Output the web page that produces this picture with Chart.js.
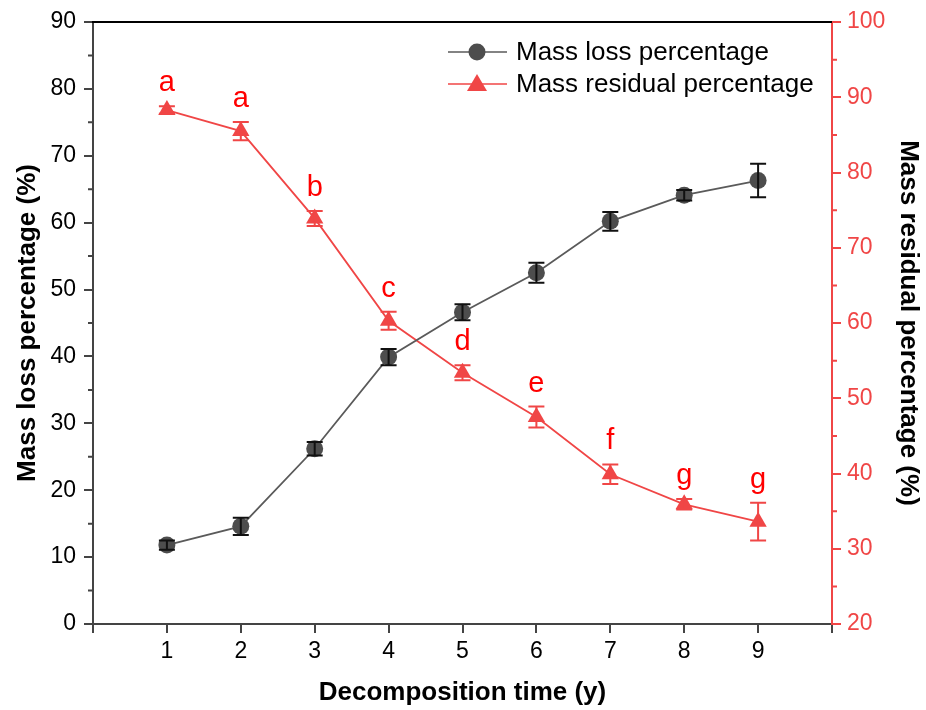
<!DOCTYPE html>
<html>
<head>
<meta charset="utf-8">
<script src="https://cdn.jsdelivr.net/npm/chart.js@4.4.0/dist/chart.umd.min.js"></script>
<style>
  body { margin: 0; background: #fff; }
  #wrap { width: 926px; height: 710px; }
</style>
</head>
<body>
<div id="wrap"><canvas id="chart" width="926" height="710"></canvas></div>
<script>
const years = [1, 2, 3, 4, 5, 6, 7, 8, 9];
const lossValues = [11.8, 14.6, 26.2, 39.9, 46.6, 52.5, 60.2, 64.1, 66.3];
const lossErrors = [0.7, 1.3, 1.0, 1.2, 1.2, 1.5, 1.4, 0.8, 2.5];
const residualValues = [88.3, 85.5, 73.9, 60.3, 53.4, 47.5, 39.9, 35.9, 33.6];
const residualErrors = [0.5, 1.2, 1.0, 1.2, 1.0, 1.4, 1.3, 0.7, 2.5];
const residualLetters = ['a', 'a', 'b', 'c', 'd', 'e', 'f', 'g', 'g'];

const FONT = "'Liberation Sans', Arial, sans-serif";
const GRAY = '#4d4d4d';
const GRAY_LINE = '#5a5a5a';
const RED = '#f04646';
const AXIS = '#444';

Chart.defaults.font.family = FONT;

function points(values) {
  return years.map((x, i) => ({ x, y: values[i] }));
}

// error bars, minor ticks, top frame, letters and legend
const extras = {
  id: 'extras',
  afterDatasetsDraw(chart) {
    const ctx = chart.ctx;
    const x = chart.scales.x;
    const sets = [
      { scale: chart.scales.y, values: lossValues, errors: lossErrors, color: '#111' },
      { scale: chart.scales.y1, values: residualValues, errors: residualErrors, color: RED }
    ];
    ctx.save();
    ctx.lineWidth = 2;
    sets.forEach(s => {
      ctx.strokeStyle = s.color;
      years.forEach((yr, i) => {
        const px = x.getPixelForValue(yr);
        const top = s.scale.getPixelForValue(s.values[i] + s.errors[i]);
        const bot = s.scale.getPixelForValue(s.values[i] - s.errors[i]);
        ctx.beginPath();
        ctx.moveTo(px, top); ctx.lineTo(px, bot);
        ctx.moveTo(px - 8, top); ctx.lineTo(px + 8, top);
        ctx.moveTo(px - 8, bot); ctx.lineTo(px + 8, bot);
        ctx.stroke();
      });
    });

    // letters above residual points
    ctx.fillStyle = '#ff0000';
    ctx.font = '29px ' + FONT;
    ctx.textAlign = 'center';
    ctx.textBaseline = 'alphabetic';
    years.forEach((yr, i) => {
      const px = x.getPixelForValue(yr);
      const top = chart.scales.y1.getPixelForValue(residualValues[i] + residualErrors[i]);
      ctx.fillText(residualLetters[i], px, top - 15);
    });
    ctx.restore();
  },
  afterDraw(chart) {
    const ctx = chart.ctx;
    const area = chart.chartArea;
    const yl = chart.scales.y;
    const yr = chart.scales.y1;
    ctx.save();
    ctx.lineWidth = 2;
    // top frame
    ctx.strokeStyle = '#000';
    ctx.beginPath();
    ctx.moveTo(area.left - 1, area.top);
    ctx.lineTo(area.right, area.top);
    ctx.stroke();
    // minor ticks
    ctx.strokeStyle = AXIS;
    ctx.beginPath();
    for (let v = 5; v < 90; v += 10) {
      const py = yl.getPixelForValue(v);
      ctx.moveTo(area.left, py); ctx.lineTo(area.left - 5, py);
    }
    ctx.stroke();
    ctx.strokeStyle = RED;
    ctx.beginPath();
    for (let v = 25; v < 100; v += 10) {
      const py = yr.getPixelForValue(v);
      ctx.moveTo(area.right, py); ctx.lineTo(area.right + 5, py);
    }
    ctx.stroke();

    // legend
    const rows = [
      { label: 'Mass loss percentage', color: GRAY_LINE, fill: GRAY, y: 52, shape: 'circle' },
      { label: 'Mass residual percentage', color: RED, fill: RED, y: 84, shape: 'triangle' }
    ];
    ctx.font = '26px ' + FONT;
    ctx.textAlign = 'left';
    ctx.textBaseline = 'middle';
    rows.forEach(r => {
      ctx.strokeStyle = r.color;
      ctx.lineWidth = 1.5;
      ctx.beginPath();
      ctx.moveTo(448, r.y); ctx.lineTo(507, r.y);
      ctx.stroke();
      ctx.fillStyle = r.fill;
      ctx.beginPath();
      if (r.shape === 'circle') {
        ctx.arc(477, r.y, 8.5, 0, Math.PI * 2);
      } else {
        ctx.moveTo(477, r.y - 10);
        ctx.lineTo(487, r.y + 7);
        ctx.lineTo(467, r.y + 7);
        ctx.closePath();
      }
      ctx.fill();
      ctx.fillStyle = '#000';
      ctx.fillText(r.label, 516, r.y + 1);
    });
    ctx.restore();
  }
};

new Chart(document.getElementById('chart'), {
  type: 'line',
  data: {
    datasets: [
      {
        label: 'Mass loss percentage',
        data: points(lossValues),
        yAxisID: 'y',
        borderColor: GRAY_LINE,
        backgroundColor: GRAY,
        borderWidth: 1.8,
        pointStyle: 'circle',
        pointRadius: 8.5,
        pointBorderWidth: 0,
        pointBackgroundColor: GRAY,
        tension: 0
      },
      {
        label: 'Mass residual percentage',
        data: points(residualValues),
        yAxisID: 'y1',
        borderColor: RED,
        backgroundColor: RED,
        borderWidth: 1.8,
        pointStyle: 'triangle',
        pointRadius: 10,
        pointBorderWidth: 0,
        pointBackgroundColor: RED,
        tension: 0
      }
    ]
  },
  options: {
    responsive: false,
    animation: false,
    layout: { padding: { top: 22, left: 0, right: 0, bottom: 0 } },
    plugins: {
      legend: { display: false },
      tooltip: { enabled: false }
    },
    scales: {
      x: {
        type: 'linear',
        min: 0,
        max: 10,
        afterFit: s => { s.height = 86; },
        ticks: {
          stepSize: 1,
          color: '#000',
          font: { size: 23 },
          padding: 5,
          maxRotation: 0,
          callback: v => (v === 0 || v === 10) ? '' : v
        },
        grid: { drawOnChartArea: false, tickLength: 9, color: AXIS, lineWidth: 2 },
        border: { color: AXIS, width: 2 },
        title: {
          display: true,
          text: 'Decomposition time (y)',
          color: '#000',
          font: { size: 26, weight: 'bold' },
          padding: { top: 0, bottom: 2 }
        }
      },
      y: {
        position: 'left',
        min: 0,
        max: 90,
        afterFit: s => { s.width = 93; },
        ticks: { stepSize: 10, color: '#000', font: { size: 23 }, padding: 8 },
        grid: { drawOnChartArea: false, tickLength: 9, color: AXIS, lineWidth: 2 },
        border: { color: AXIS, width: 2 },
        title: {
          display: true,
          text: 'Mass loss percentage (%)',
          color: '#000',
          font: { size: 26, weight: 'bold' },
          padding: { top: 12, bottom: 0 }
        }
      },
      y1: {
        position: 'right',
        min: 20,
        max: 100,
        afterFit: s => { s.width = 94; },
        ticks: { stepSize: 10, color: RED, font: { size: 23 }, padding: 6 },
        grid: { drawOnChartArea: false, tickLength: 9, color: RED, lineWidth: 2 },
        border: { color: RED, width: 2 },
        title: {
          display: true,
          text: 'Mass residual percentage (%)',
          color: '#000',
          font: { size: 26, weight: 'bold' },
          padding: { top: 2, bottom: 0 }
        }
      }
    }
  },
  plugins: [extras]
});
</script>
</body>
</html>
